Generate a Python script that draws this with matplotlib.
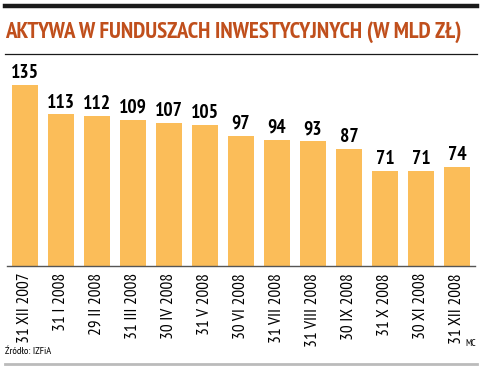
import matplotlib
matplotlib.use("Agg")
import matplotlib.pyplot as plt
from matplotlib.lines import Line2D

# Data
dates = ['31 XII 2007', '31 I 2008', '29 II 2008', '31 III 2008', '30 IV 2008',
         '31 V 2008', '30 VI 2008', '31 VII 2008', '31 VIII 2008', '30 IX 2008',
         '31 X 2008', '30 XI 2008', '31 XII 2008']
assets = [135, 113, 112, 109, 107, 105, 97, 94, 93, 87, 71, 71, 74]

title = 'AKTYWA W FUNDUSZACH INWESTYCYJNYCH (W MLD ZŁ)'
source = 'Źródło: IZFiA'
author = 'MC'

font = ['PT Sans Narrow', 'DejaVu Sans']
bar_color = '#fbbd59'
title_color = '#c04f1c'

W, H = 488, 375
fig = plt.figure(figsize=(W / 100, H / 100), dpi=100)

def fx(px):
    return px / W

def fy(py):
    return 1 - py / H

# Decorations
fig.add_artist(Line2D([fx(5), fx(477)], [fy(6), fy(6)], color='#1a1a1a', lw=3.2))
fig.add_artist(Line2D([fx(5), fx(477)], [fy(54), fy(54)], color='#1a1a1a', lw=0.9))
fig.add_artist(Line2D([fx(5), fx(477)], [fy(364), fy(364)], color='#bbbbbb', lw=2))
fig.text(fx(5), fy(32), title, color=title_color, fontsize=16.5, fontweight='bold',
         family=font, va='center', ha='left')
fig.text(fx(5), fy(352), source, fontsize=7.5, family=font, va='center', ha='left')
fig.text(fx(476), fy(343), author, fontsize=7, family=font, va='center', ha='right')

# Axes
ax = fig.add_axes([fx(7), fy(266), fx(475 - 7), (266 - 60) / H])
x = range(len(assets))
ax.bar(x, assets, width=0.72, color=bar_color, zorder=2)
ax.set_xlim(-0.5, 12.5)
ax.set_ylim(0, 206 / 1.341)
for i, v in zip(x, assets):
    ax.text(i, v + 2.2, str(v), ha='center', va='bottom', fontsize=14,
            fontweight='bold', family=font)
for s in ['top', 'right', 'left']:
    ax.spines[s].set_visible(False)
ax.spines['bottom'].set_color('#555555')
ax.spines['bottom'].set_linewidth(1)
ax.set_yticks([])
ax.set_xticks(list(x))
ax.set_xticklabels(dates, rotation=90, fontsize=12.5, family=font, va='top', ha='center')
ax.tick_params(axis='x', length=0, pad=5)
ax.patch.set_alpha(0)

fig.savefig('out.png', dpi=100)
